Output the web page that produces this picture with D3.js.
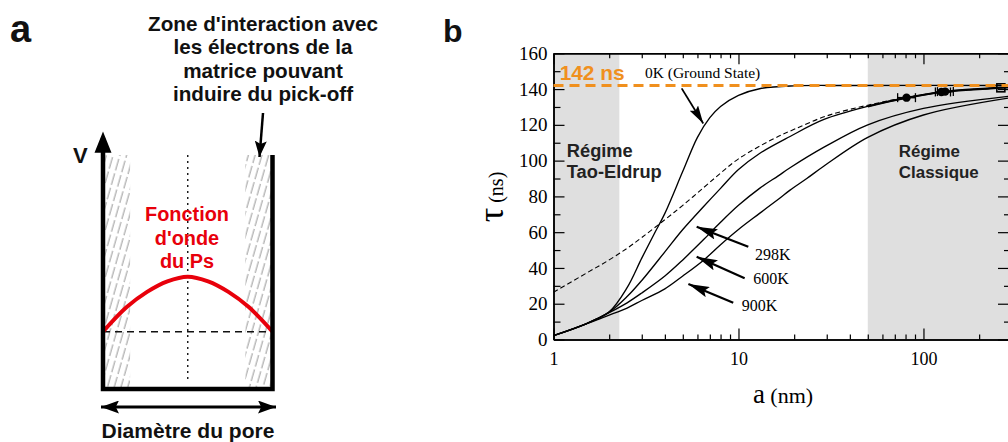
<!DOCTYPE html>
<html><head><meta charset="utf-8">
<script src="https://cdn.jsdelivr.net/npm/d3@7"></script>
<style>
html,body{margin:0;padding:0;background:#fff;}
svg{display:block;}
</style></head><body>
<svg id="c" width="1008" height="442"></svg>
<script>
// ================= DATA =================
// panel b axes
const xTickMajor = [1, 10, 100];
const xTickMinor = [2,3,4,5,6,7,8,9,20,30,40,50,60,70,80,90,200];
const yTickMajor = [0,20,40,60,80,100,120,140,160];
const yTickMinor = [10,30,50,70,90,110,130,150];
const xDomain = [1, 290];
const yDomain = [0, 160];
// shaded regimes (nm)
const taoEldrupRange = [1, 2.27];
const classicRange = [50, 290];
const tauLimit = 142;
// curves: a (nm) / tau (ns)
const a0K   = [1, 1.5, 2, 2.5, 3, 3.5, 4, 5, 6, 7, 8, 10, 13, 20, 40, 290];
const t0K   = [2.2, 8.8, 15.5, 29, 45.5, 59, 70.5, 94, 113, 124, 130.3, 136.5, 140.2, 141.8, 142, 142];
const aDash = [1, 1.5, 2, 2.5, 3, 4, 5, 6.5, 8, 10, 15, 20, 30, 50, 80, 130, 290];
const tDash = [26.4, 37, 44.5, 51, 57, 67, 75, 85, 93, 101, 111.5, 117.5, 125, 131, 135.2, 138.5, 141];
const a298  = [1, 1.5, 2, 2.5, 3, 4, 5, 6.5, 8, 10, 13, 19, 29, 50, 80, 130, 290];
const t298  = [2.2, 8.8, 15.3, 24, 33, 49, 61.5, 74.5, 84.5, 95, 104, 113.5, 123, 130.3, 135, 138.5, 141];
const a600  = [1, 1.5, 1.75, 2, 2.5, 3, 4, 5, 6.5, 8, 10, 13, 16.4, 19, 29, 50, 100, 290];
const t600  = [2.2, 8.8, 12, 15, 20.5, 26, 35.5, 44.5, 56, 65.5, 75, 84.5, 91.5, 96, 107.5, 120, 129.2, 136];
const a900  = [1, 1.5, 1.75, 2, 2.5, 3, 4, 5, 6.5, 8, 10, 13, 16.7, 19, 23.4, 29, 50, 100, 290];
const t900  = [2.2, 8.7, 11.3, 13.6, 17.6, 21.8, 28.3, 35.5, 44.5, 53, 61.5, 70.5, 79, 83.5, 90, 97, 113, 125.5, 135];
// experimental points (a, tau, aLow, aHigh)
const ptA    = [81, 125, 131];
const ptTau  = [135.2, 138.4, 138.6];
const ptLow  = [72.5, 116, 119];
const ptHigh = [90.5, 140, 145];
const sqA = [262], sqTau = [140.7];
// temperature labels / arrows (data coordinates)
const tempLabels = ["298K", "600K", "900K"];
const tempLabelA = [12.3, 12.0, 10.4];
const tempLabelT = [44.4, 31.0, 16.1];
const tempArrowFromA = [11.3, 10.8, 9.37];
const tempArrowFromT = [51.9, 34.2, 20.6];
const tempArrowToA = [5.94, 5.94, 5.36];
const tempArrowToT = [63, 46.3, 31];

// panel a (schematic well, unit coordinates 0..1)
const waveX = [0, 0.14, 0.26, 0.38, 0.5, 0.62, 0.74, 0.86, 1];
const waveY = [0.245, 0.35, 0.415, 0.46, 0.48, 0.46, 0.415, 0.35, 0.245];
const groundLevel = 0.245;
const hatchLeft = [0.012, 0.16];
const hatchRight = [0.84, 0.995];
const titleLines = ["Zone d'interaction avec", "les électrons de la", "matrice pouvant", "induire du pick-off"];
const waveLabel = ["Fonction", "d'onde", "du Ps"];

// ================= DRAW =================
const svg = d3.select("#c");
const defs = svg.append("defs");
function marker(id, len, wid){
  defs.append("marker").attr("id", id).attr("markerUnits","userSpaceOnUse")
    .attr("viewBox", `${-len} ${-wid/2} ${len} ${wid}`).attr("refX", 0).attr("refY", 0)
    .attr("markerWidth", len).attr("markerHeight", wid).attr("orient","auto-start-reverse")
    .append("path").attr("d", `M0,0L${-len},${-wid/2}L${-len*0.82},0L${-len},${wid/2}Z`).attr("fill","#000");
}
marker("ahB", 21, 11);
marker("ahK", 18, 10);
marker("ahA", 16, 12);
marker("ahD", 18, 13);
const pat = defs.append("pattern").attr("id","hatch").attr("patternUnits","userSpaceOnUse")
  .attr("width",6.5).attr("height",30).attr("patternTransform","rotate(16)");
pat.append("line").attr("x1",2).attr("x2",2).attr("y1",0).attr("y2",30)
  .attr("stroke","#666").attr("stroke-width",0.7).attr("stroke-dasharray","12,3");

const SANS = "'Liberation Sans', Arial, sans-serif";
const SERIF = "'Liberation Serif', 'Times New Roman', serif";

// size a group of text lines so that one reference line has the target width
function fitGroup(sel, base, refIndex, target){
  sel.attr("font-size", base);
  const w = sel.nodes()[refIndex].getComputedTextLength();
  sel.attr("font-size", base*target/w);
}

// ---------- Panel a ----------
const ga = svg.append("g");
ga.append("text").attr("x", 10).attr("y", 42).text("a")
  .attr("font-family", SANS).attr("font-weight", 700).attr("font-size", 38).attr("fill","#111");
const wx = d3.scaleLinear().domain([0,1]).range([103, 272.5]);
const wy = d3.scaleLinear().domain([0,1]).range([389, 155]);

const tl = ga.selectAll("text.title").data(titleLines).join("text").attr("class","title")
  .attr("x", 263).attr("y", (d,i)=> 31 + i*23.4).attr("text-anchor","middle")
  .attr("font-family", SANS).attr("font-weight", 700).attr("fill","#111").text(d=>d);
fitGroup(tl, 19, 0, 230);

// hatching
[hatchLeft, hatchRight].forEach(h=>{
  ga.append("rect").attr("x", wx(h[0])).attr("y", wy(1)).attr("width", wx(h[1])-wx(h[0]))
    .attr("height", wy(0)-wy(1)).attr("fill","url(#hatch)");
});
// center dotted line
ga.append("line").attr("x1", wx(0.5)).attr("x2", wx(0.5)).attr("y1", wy(1)).attr("y2", wy(0.03))
  .attr("stroke","#111").attr("stroke-width",1.4).attr("stroke-dasharray","2,4");
// ground level dashed
ga.append("line").attr("x1", wx(0)).attr("x2", wx(1)).attr("y1", wy(groundLevel)).attr("y2", wy(groundLevel))
  .attr("stroke","#111").attr("stroke-width",1.5).attr("stroke-dasharray","7,5");
// wave
ga.append("path").datum(waveX.map((x,i)=>[x, waveY[i]]))
  .attr("d", d3.line().x(d=>wx(d[0])).y(d=>wy(d[1])).curve(d3.curveCatmullRom))
  .attr("fill","none").attr("stroke","#e8000b").attr("stroke-width",4);
// walls
ga.append("path").attr("d", `M${wx(0)},${wy(1.07)}V${wy(0)}H${wx(1)}V${wy(1)}`)
  .attr("fill","none").attr("stroke","#000").attr("stroke-width",4.5);
ga.append("path").attr("d", `M${wx(0)},${wy(1.1)}L${wx(0)-8.5},${wy(1.01)}L${wx(0)+8.5},${wy(1.01)}Z`).attr("fill","#000");
ga.append("text").attr("x", 73).attr("y", 163).text("V")
  .attr("font-family", SANS).attr("font-weight", 700).attr("font-size", 22).attr("fill","#111");
// annotation arrow
ga.append("line").attr("x1", 263).attr("y1", 113).attr("x2", 259.5).attr("y2", 157)
  .attr("stroke","#000").attr("stroke-width",2.5).attr("marker-end","url(#ahA)");
// wave label
const wl = ga.selectAll("text.wl").data(waveLabel).join("text").attr("class","wl")
  .attr("x", 187).attr("y",(d,i)=> 221 + i*23.5).attr("text-anchor","middle")
  .attr("font-family", SANS).attr("font-weight", 700).attr("fill","#e8000b").text(d=>d);
fitGroup(wl, 20, 0, 84);
// diameter arrow
ga.append("line").attr("x1", 101).attr("x2", 276).attr("y1", 407).attr("y2", 407)
  .attr("stroke","#000").attr("stroke-width",3)
  .attr("marker-start","url(#ahD)").attr("marker-end","url(#ahD)");
const dl = ga.append("text").attr("x", 188).attr("y", 437.5).attr("text-anchor","middle").text("Diamètre du pore")
  .attr("font-family", SANS).attr("font-weight", 700).attr("fill","#111");
fitGroup(dl, 19, 0, 173);

// ---------- Panel b ----------
const gb = svg.append("g");
gb.append("text").attr("x", 443).attr("y", 42).text("b")
  .attr("font-family", SANS).attr("font-weight", 700).attr("font-size", 32).attr("fill","#111");
const x = d3.scaleLog().domain(xDomain).range([553.5, 1009]);
const y = d3.scaleLinear().domain(yDomain).range([339.5, 53.3]);

gb.append("rect").attr("x", x(taoEldrupRange[0])).attr("width", x(taoEldrupRange[1])-x(taoEldrupRange[0]))
  .attr("y", y(160)).attr("height", y(0)-y(160)).attr("fill","#dfdfdf");
gb.append("rect").attr("x", x(classicRange[0])).attr("width", x(classicRange[1])-x(classicRange[0]))
  .attr("y", y(160)).attr("height", y(0)-y(160)).attr("fill","#dfdfdf");

// regime labels
function twoLine(a, t, lines, target){
  const tx = gb.append("text").attr("font-family", SANS).attr("font-weight",700).attr("fill","#222");
  lines.forEach((l,i)=> tx.append("tspan").attr("x", x(a)).attr("y", y(t) + i*20.5).text(l));
  tx.attr("font-size", 18);
  const w = tx.selectAll("tspan").nodes()[1].getComputedTextLength();
  tx.attr("font-size", 18*target/w);
}
twoLine(1.18, 101.8, ["Régime","Tao-Eldrup"], 95);
twoLine(73.6, 101.8, ["Régime","Classique"], 80);

// axes
function styleAxis(g){ g.selectAll("path.domain").attr("stroke","#000").attr("stroke-width",1.5);
  g.selectAll(".tick line").attr("stroke","#000").attr("stroke-width",1.2); }
const fmt = d3.format("d");
gb.append("g").attr("transform",`translate(0,${y(0)})`)
  .call(d3.axisBottom(x).tickValues(xTickMajor).tickFormat(fmt).tickSize(-11).tickSizeOuter(0).tickPadding(13))
  .call(styleAxis).call(g=>g.selectAll("text").attr("font-family",SERIF).attr("font-size",18).attr("fill","#000"));
gb.append("g").attr("transform",`translate(0,${y(0)})`)
  .call(d3.axisBottom(x).tickValues(xTickMinor).tickFormat("").tickSize(-5).tickSizeOuter(0)).call(styleAxis);
gb.append("g").attr("transform",`translate(0,${y(160)})`)
  .call(d3.axisTop(x).tickValues(xTickMajor).tickFormat("").tickSize(-11).tickSizeOuter(0)).call(styleAxis);
gb.append("g").attr("transform",`translate(0,${y(160)})`)
  .call(d3.axisTop(x).tickValues(xTickMinor).tickFormat("").tickSize(-5).tickSizeOuter(0)).call(styleAxis);
gb.append("g").attr("transform",`translate(${x(xDomain[0])},0)`)
  .call(d3.axisLeft(y).tickValues(yTickMajor).tickFormat(fmt).tickSize(-11).tickSizeOuter(0).tickPadding(6))
  .call(styleAxis).call(g=>g.selectAll("text").attr("font-family",SERIF).attr("font-size",19).attr("fill","#000"));
gb.append("g").attr("transform",`translate(${x(xDomain[0])},0)`)
  .call(d3.axisLeft(y).tickValues(yTickMinor).tickFormat("").tickSize(-7).tickSizeOuter(0)).call(styleAxis);
gb.append("g").attr("transform",`translate(${x(xDomain[1])},0)`)
  .call(d3.axisRight(y).tickValues(yTickMajor).tickFormat("").tickSize(-11).tickSizeOuter(0)).call(styleAxis);
gb.append("g").attr("transform",`translate(${x(xDomain[1])},0)`)
  .call(d3.axisRight(y).tickValues(yTickMinor).tickFormat("").tickSize(-5).tickSizeOuter(0)).call(styleAxis);

// axis titles
const yt = gb.append("text").attr("transform",`translate(503,197) rotate(-90)`).attr("text-anchor","middle")
  .attr("font-family", SERIF).attr("fill","#000");
yt.append("tspan").attr("font-size",36).text("τ");
yt.append("tspan").attr("font-size",20).text(" (ns)");
const xt = gb.append("text").attr("x", 783).attr("y", 403).attr("text-anchor","middle")
  .attr("font-family", SERIF).attr("fill","#000");
xt.append("tspan").attr("font-size",27).text("a");
xt.append("tspan").attr("font-size",22).text(" (nm)");

// curves
const line = d3.line().x(d=>x(d[0])).y(d=>y(d[1])).curve(d3.curveCatmullRom.alpha(0.5));
const zip = (A,T)=>A.map((a,i)=>[a,T[i]]);
gb.append("path").datum(zip(aDash,tDash)).attr("d",line).attr("fill","none")
  .attr("stroke","#000").attr("stroke-width",1.1).attr("stroke-dasharray","5,3");
[[a0K,t0K],[a298,t298],[a600,t600],[a900,t900]].forEach(s=>{
  gb.append("path").datum(zip(s[0],s[1])).attr("d",line).attr("fill","none")
    .attr("stroke","#000").attr("stroke-width",1.35);
});
// thicker experimental trend
gb.append("path").datum(zip(a298,t298).filter(d=>d[0]>=50)).attr("d",line).attr("fill","none")
  .attr("stroke","#000").attr("stroke-width",2.2);
// data points
ptA.forEach((a,i)=>{
  gb.append("line").attr("x1",x(ptLow[i])).attr("x2",x(ptHigh[i])).attr("y1",y(ptTau[i])).attr("y2",y(ptTau[i]))
    .attr("stroke","#000").attr("stroke-width",1.5);
  [ptLow[i],ptHigh[i]].forEach(v=> gb.append("line").attr("x1",x(v)).attr("x2",x(v))
    .attr("y1",y(ptTau[i])-4.5).attr("y2",y(ptTau[i])+4.5).attr("stroke","#000").attr("stroke-width",1.3));
  gb.append("circle").attr("cx",x(a)).attr("cy",y(ptTau[i])).attr("r",4.2).attr("fill","#000");
});
sqA.forEach((a,i)=>{
  gb.append("rect").attr("x",x(a)-4).attr("y",y(sqTau[i])-4).attr("width",8).attr("height",8)
    .attr("fill","none").attr("stroke","#000").attr("stroke-width",1.6);
});

// limit line
gb.append("line").attr("x1", x(xDomain[0])).attr("x2", x(xDomain[1])).attr("y1", y(tauLimit)).attr("y2", y(tauLimit))
  .attr("stroke","#f0901e").attr("stroke-width",3).attr("stroke-dasharray","10,6");
const lim = gb.append("text").attr("x", x(1.08)).attr("y", y(145)).text("142 ns")
  .attr("font-family", SANS).attr("font-weight",700).attr("fill","#f0901e");
fitGroup(lim, 21, 0, 65);
gb.append("text").attr("x", x(3.12)).attr("y", y(146)).text("0K (Ground State)")
  .attr("font-family", SERIF).attr("font-size",15.5).attr("fill","#000");
gb.append("line").attr("x1", x(4.93)).attr("y1", y(140.4)).attr("x2", x(6.45)).attr("y2", y(120.8))
  .attr("stroke","#000").attr("stroke-width",1.8).attr("marker-end","url(#ahK)");

// temperature arrows / labels
tempLabels.forEach((l,i)=>{
  gb.append("line").attr("x1", x(tempArrowFromA[i])).attr("y1", y(tempArrowFromT[i]))
    .attr("x2", x(tempArrowToA[i])).attr("y2", y(tempArrowToT[i]))
    .attr("stroke","#000").attr("stroke-width",2.2).attr("marker-end","url(#ahB)");
  gb.append("text").attr("x", x(tempLabelA[i])).attr("y", y(tempLabelT[i])).text(l)
    .attr("font-family", SERIF).attr("font-size",16).attr("fill","#000");
});
</script>
</body></html>
